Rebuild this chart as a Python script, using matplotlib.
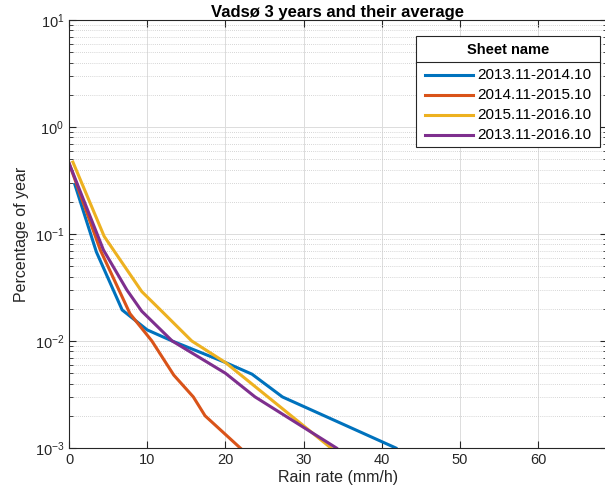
import matplotlib
matplotlib.use("Agg")
import matplotlib.pyplot as plt
from matplotlib.lines import Line2D

plt.rcParams['font.family'] = ['Liberation Sans', 'DejaVu Sans']
plt.rcParams['mathtext.fontset'] = 'custom'
plt.rcParams['mathtext.rm'] = 'Liberation Sans'
plt.rcParams['mathtext.it'] = 'Liberation Sans:italic'

title = "Vadsø 3 years and their average"
xlabel = "Rain rate (mm/h)"
ylabel = "Percentage of year"
legend_title = "Sheet name"
series_names = ["2013.11-2014.10", "2014.11-2015.10", "2015.11-2016.10", "2013.11-2016.10"]
colors = ["#0072BD", "#D95319", "#EDB120", "#7E2F8E"]

x_2014 = [0.75, 3.5, 6.8, 10.0, 13.2, 20.0, 23.4, 27.3, 41.8]
y_2014 = [0.29, 0.068, 0.0195, 0.0127, 0.010, 0.0063, 0.0049, 0.0030, 0.001]

x_2015 = [0.0, 4.0, 7.8, 10.6, 13.4, 15.9, 17.4, 21.9]
y_2015 = [0.46, 0.071, 0.018, 0.010, 0.0048, 0.0030, 0.0020, 0.001]

x_2016 = [0.5, 4.5, 9.3, 11.7, 15.7, 20.0, 33.5]
y_2016 = [0.47, 0.095, 0.029, 0.0195, 0.010, 0.0063, 0.001]

x_avg = [0.0, 4.4, 7.4, 9.3, 13.2, 20.0, 23.8, 34.2]
y_avg = [0.46, 0.071, 0.030, 0.019, 0.010, 0.0050, 0.0030, 0.001]

xs = [x_2014, x_2015, x_2016, x_avg]
ys = [y_2014, y_2015, y_2016, y_avg]

fig = plt.figure(figsize=(6.05, 5.04), dpi=100)
ax_left, ax_right, ax_top, ax_bottom = 69, 607, 20, 448
ax = fig.add_axes([ax_left/605, (504-ax_bottom)/504, (ax_right-ax_left)/605, (ax_bottom-ax_top)/504])

for x, y, c, n in zip(xs, ys, colors, series_names):
    ax.plot(x, y, color=c, lw=2.2, label=n, solid_joinstyle='miter')

ax.set_yscale('log')
ax.set_xlim(0, 68.8)
ax.set_ylim(1e-3, 1e1)
ax.set_xticks([0, 10, 20, 30, 40, 50, 60])

ax.grid(True, which='major', color='#dcdcdc', lw=0.7, ls='-')
ax.grid(True, which='minor', axis='y', color='#c8c8c8', lw=0.6, ls=(0, (1, 1.5)))
ax.set_axisbelow(True)

edge = '#262626'
for s in ax.spines.values():
    s.set_color(edge)
    s.set_linewidth(0.8)
ax.tick_params(which='both', direction='in', top=True, right=True, colors=edge,
               labelcolor=edge, labelsize=10.5)
ax.tick_params(which='major', length=5)
ax.tick_params(which='minor', length=3)

ax.set_xlabel(xlabel, fontsize=11.5, color=edge, labelpad=2)
ax.set_ylabel(ylabel, fontsize=11.5, color=edge, labelpad=4)
ax.set_title(title, fontsize=12, fontweight='bold', color='black', pad=2)

# Legend (pixel layout converted to axes fraction)
W, H = ax_right - ax_left, ax_bottom - ax_top
fx = lambda px: (px - ax_left) / W
fy = lambda py: (ax_bottom - py) / H
lx0, lx1 = fx(416), fx(600)
ly0, ly1 = fy(147), fy(36)
ax.add_patch(plt.Rectangle((lx0, ly0), lx1 - lx0, ly1 - ly0, transform=ax.transAxes,
                           facecolor='white', edgecolor='#262626', lw=0.8, zorder=5))
ax.add_line(Line2D([lx0, lx1], [fy(62), fy(62)], transform=ax.transAxes, color='#262626', lw=0.8, zorder=6))
ax.text((lx0 + lx1) / 2, fy(50), legend_title, transform=ax.transAxes,
        ha='center', va='center', fontsize=10.5, fontweight='bold', zorder=7)
entry_y = [75, 95, 115, 135]
for yy, c, n in zip(entry_y, colors, series_names):
    ax.add_line(Line2D([fx(425), fx(473)], [fy(yy), fy(yy)], transform=ax.transAxes,
                       color=c, lw=2.2, zorder=7))
    ax.text(fx(477), fy(yy), n, transform=ax.transAxes, ha='left', va='center',
            fontsize=11, color='black', zorder=7)

fig.savefig("out.png", dpi=100)
